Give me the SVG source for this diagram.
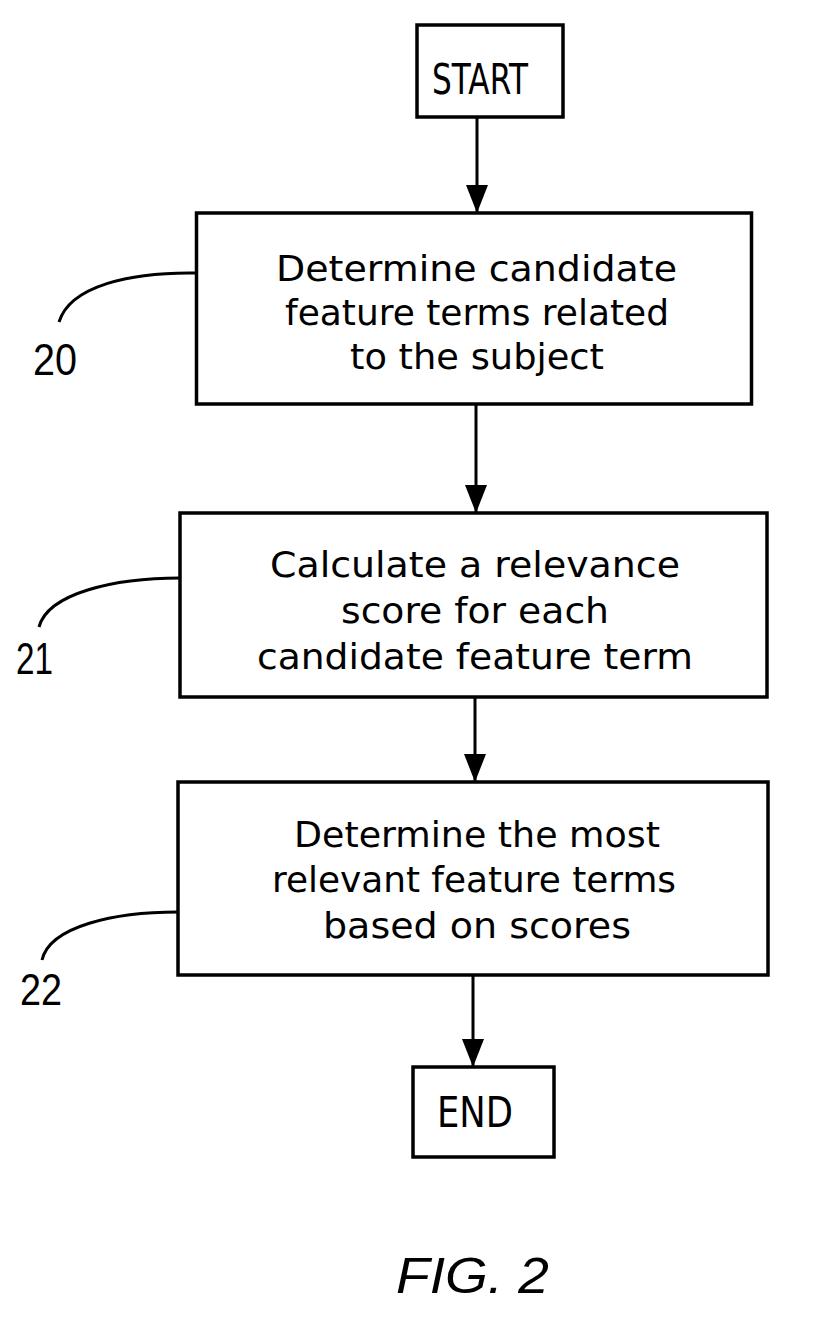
<svg xmlns="http://www.w3.org/2000/svg" width="814" height="1321" viewBox="0 0 814 1321">
  <style>
    .box { fill: #ffffff; stroke: #000000; stroke-width: 3.5; }
    .conn { fill: none; stroke: #000000; stroke-width: 3; }
    .lead { fill: none; stroke: #000000; stroke-width: 3; }
    .t { font-family: "DejaVu Sans", "Liberation Sans", sans-serif; font-size: 36px; fill: #000000; }
    .term { font-family: "DejaVu Sans", "Liberation Sans", sans-serif; font-size: 42px; fill: #000000; }
    .ref { font-family: "Liberation Sans", "DejaVu Sans", sans-serif; font-size: 44px; fill: #000000; }
    .fig { font-family: "Liberation Sans", "DejaVu Sans", sans-serif; font-size: 50px; font-style: italic; fill: #000000; }
  </style>
  <defs>
    <marker id="arrow" markerUnits="userSpaceOnUse" markerWidth="28" markerHeight="22" viewBox="0 0 28 22" refX="28" refY="11" orient="auto">
      <path d="M0,0 L28,11 L0,22 z" fill="#000000"/>
    </marker>
  </defs>
  <rect width="814" height="1321" fill="#ffffff"/>

  <g id="connectors">
    <line class="conn" x1="477" y1="117" x2="477" y2="213" marker-end="url(#arrow)"/>
    <line class="conn" x1="476" y1="404" x2="476" y2="513" marker-end="url(#arrow)"/>
    <line class="conn" x1="475" y1="697" x2="475" y2="782" marker-end="url(#arrow)"/>
    <line class="conn" x1="473" y1="975" x2="473" y2="1067" marker-end="url(#arrow)"/>
    <path class="lead" d="M196,273 C130,272 70,286 59,322"/>
    <path class="lead" d="M180,578 C115,578 48,593 39,627"/>
    <path class="lead" d="M178,912 C115,912 50,926 42,960"/>
  </g>

  <g id="start">
    <rect class="box" x="417" y="25" width="146" height="92"/>
    <text class="term" x="432" y="94" textLength="96" lengthAdjust="spacingAndGlyphs">START</text>
  </g>

  <g id="step20">
    <rect class="box" x="196.5" y="213" width="555" height="191"/>
    <text class="t" x="276" y="281" textLength="401" lengthAdjust="spacingAndGlyphs">Determine candidate</text>
    <text class="t" x="285" y="325" textLength="384" lengthAdjust="spacingAndGlyphs">feature terms related</text>
    <text class="t" x="350" y="369" textLength="254" lengthAdjust="spacingAndGlyphs">to the subject</text>
  </g>
  <g id="label20">
    <text class="ref" x="33" y="375" textLength="44" lengthAdjust="spacingAndGlyphs">20</text>
  </g>

  <g id="step21">
    <rect class="box" x="180" y="513" width="587" height="184"/>
    <text class="t" x="270" y="577" textLength="410" lengthAdjust="spacingAndGlyphs">Calculate a relevance</text>
    <text class="t" x="341" y="623" textLength="268" lengthAdjust="spacingAndGlyphs">score for each</text>
    <text class="t" x="257" y="669" textLength="436" lengthAdjust="spacingAndGlyphs">candidate feature term</text>
  </g>
  <g id="label21">
    <text class="ref" x="16" y="674" textLength="37" lengthAdjust="spacingAndGlyphs">21</text>
  </g>

  <g id="step22">
    <rect class="box" x="178" y="782" width="590" height="193"/>
    <text class="t" x="294" y="847" textLength="366" lengthAdjust="spacingAndGlyphs">Determine the most</text>
    <text class="t" x="272" y="892" textLength="404" lengthAdjust="spacingAndGlyphs">relevant feature terms</text>
    <text class="t" x="323" y="938" textLength="308" lengthAdjust="spacingAndGlyphs">based on scores</text>
  </g>
  <g id="label22">
    <text class="ref" x="20" y="1005" textLength="42" lengthAdjust="spacingAndGlyphs">22</text>
  </g>

  <g id="end">
    <rect class="box" x="413" y="1067" width="141" height="90"/>
    <text class="term" x="437" y="1127" textLength="76" lengthAdjust="spacingAndGlyphs">END</text>
  </g>

  <g id="caption">
    <text class="fig" x="396" y="1293" textLength="153" lengthAdjust="spacingAndGlyphs">FIG. 2</text>
  </g>
</svg>
